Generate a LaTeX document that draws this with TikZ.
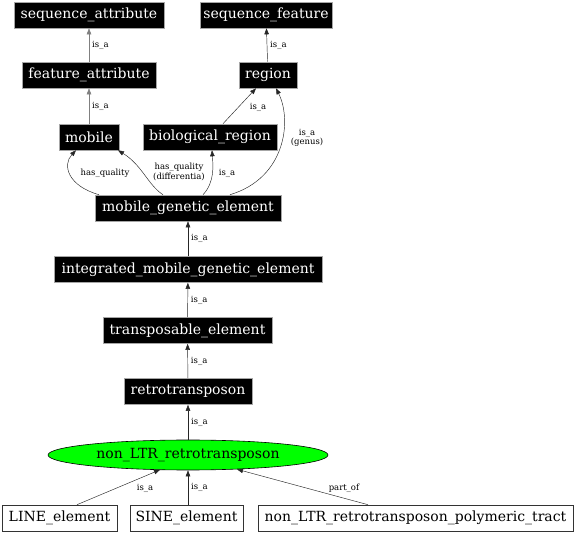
\documentclass[tikz,border=0pt]{standalone}
\usepackage{fontspec}
\setmainfont{DejaVu Serif}
\usetikzlibrary{arrows.meta,shapes.geometric}
\newcommand{\nfont}{\fontsize{14}{16}\selectfont}
\newcommand{\lfont}{\fontsize{8.5}{9.5}\selectfont}
\begin{document}
\begin{tikzpicture}[x=1pt,y=-1pt,
  blk/.style={rectangle,fill=black,text=white,draw=gray!70,line width=0.6pt,inner sep=0pt,minimum height=26pt,font=\nfont},
  wht/.style={rectangle,fill=white,text=black,draw=black!80,line width=0.6pt,inner sep=0pt,minimum height=26pt,font=\nfont},
  arr/.style={draw=black!85,line width=0.45pt,-{Triangle[length=6pt,width=4.5pt]}},
  garr/.style={arr,draw=gray},
  lbl/.style={font=\lfont,inner sep=0pt,align=center}]
\useasboundingbox (0,0) rectangle (576,534);

\node[blk,minimum width=150pt] (sa) at (89,15) {sequence\_attribute};
\node[blk,minimum width=132pt] (sf) at (266,15) {sequence\_feature};
\node[blk,minimum width=134pt] (fa) at (89,75) {feature\_attribute};
\node[blk,minimum width=58pt] (reg) at (268,75) {region};
\node[blk,minimum width=60pt] (mob) at (89,137) {mobile};
\node[blk,minimum width=134pt] (bio) at (210,137) {biological\_region};
\node[blk,minimum width=186pt] (mge) at (188,208) {mobile\_genetic\_element};
\node[blk,minimum width=268pt] (imge) at (188,269.5) {integrated\_mobile\_genetic\_element};
\node[blk,minimum width=169pt] (te) at (187.5,330.5) {transposable\_element};
\node[blk,minimum width=128pt] (rt) at (188,391.5) {retrotransposon};
\node[ellipse,fill=green,draw=black,line width=0.6pt,inner sep=0pt,minimum width=280pt,minimum height=30pt,font=\nfont] (nlr) at (188,455) {non\_LTR\_retrotransposon};
\node[wht,minimum width=115pt] (line) at (59.5,518) {LINE\_element};
\node[wht,minimum width=113pt] (sine) at (186.5,518) {SINE\_element};
\node[wht,minimum width=315pt] (tract) at (415.5,518) {non\_LTR\_retrotransposon\_polymeric\_tract};

\draw[garr] (fa) -- node[lbl,right=3pt] {is\_a} (sa);
\draw[arr] (reg) -- node[lbl,right=3pt] {is\_a} (sf);
\draw[garr] (mob) -- node[lbl,right=3pt] {is\_a} (fa);
\draw[arr] ([xshift=13pt]bio.north) -- ([xshift=-12pt]reg.south);
\node[lbl] (lbr) at (258,107) {is\_a};
\draw[arr] ([xshift=42pt]mge.north) .. controls (286,178) and (292,120) .. ([xshift=8pt]reg.south);
\node[lbl] (lgen) at (307,138) {is\_a\\(genus)};
\draw[arr] ([xshift=-89pt]mge.north) .. controls (68,186) and (62,165) .. ([xshift=-13pt]mob.south);
\node[lbl] (lhq) at (105,173) {has\_quality};
\draw[arr] ([xshift=-25pt]mge.north) .. controls (148,185) and (142,165) .. ([xshift=29pt]mob.south);
\node[lbl] (lhqd) at (179,172) {has\_quality\\(differentia)};
\draw[arr] ([xshift=15pt]mge.north) .. controls (215,182) and (213,165) .. ([xshift=2pt]bio.south);
\node[lbl] (lbi) at (227,173) {is\_a};

\draw[arr] (imge) -- node[lbl,right=3pt] {is\_a} (mge);
\draw[arr] (te) -- node[lbl,right=3pt] {is\_a} (imge);
\draw[arr] (rt) -- node[lbl,right=3pt] {is\_a} (te);
\draw[arr] (nlr.north) -- node[lbl,right=3pt] {is\_a} (rt);

\draw[arr] ([xshift=17.5pt]line.north) -- ([xshift=-28pt,yshift=0.5pt]nlr.south);
\node[lbl] (lline) at (145,488) {is\_a};
\draw[arr] (sine.north -| nlr.south) -- node[lbl,right=3pt] {is\_a} (nlr.south);
\draw[arr] ([xshift=-47.5pt]tract.north) -- ([xshift=49pt,yshift=1pt]nlr.south);
\node[lbl] (lpo) at (344,488) {part\_of};
\end{tikzpicture}
\end{document}
